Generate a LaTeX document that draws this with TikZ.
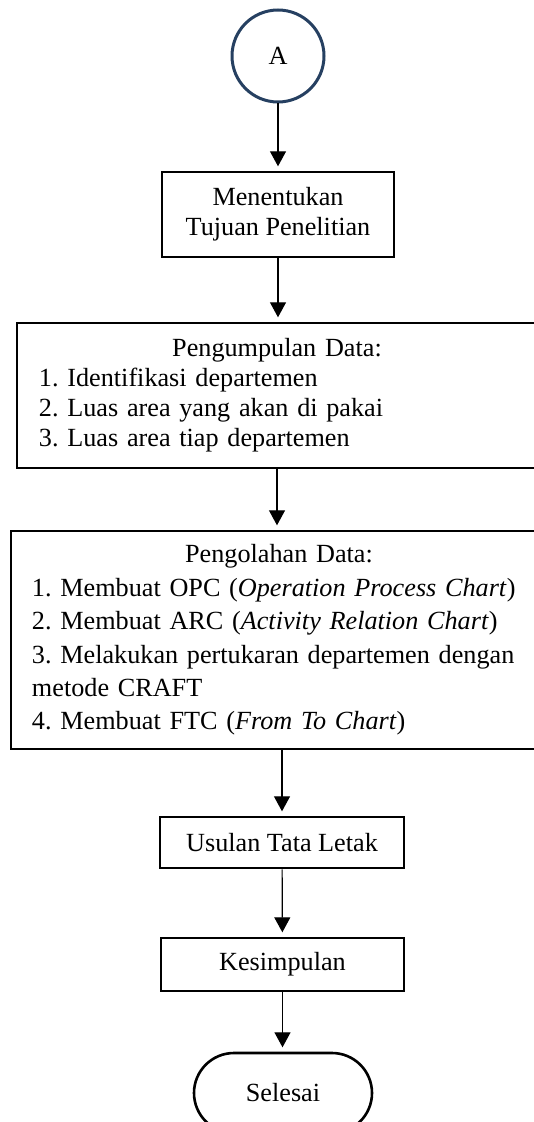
\documentclass[tikz,border=0pt]{standalone}
\usepackage{fontspec}
\setmainfont{Liberation Serif}
\usetikzlibrary{arrows.meta}
\definecolor{circblue}{RGB}{38,64,97}
\frenchspacing

\begin{document}
\begin{tikzpicture}[x=0.5pt,y=-0.5pt,
  font=\fontsize{13.1}{15}\selectfont,
  box/.style={draw,line width=1.3pt,inner sep=0pt},
  arr/.style={-{Triangle[width=8pt,length=7.5pt]},line width=0.6pt,shorten >=2.2pt}]
\useasboundingbox (0,0) rectangle (534,1122);
\clip (0,0) rectangle (534,1122);
\node[circle,draw=circblue,line width=1.5pt,minimum size=46pt,inner sep=0pt] (A) at (278,56) {A};
\node[box,minimum width=116pt,minimum height=42.5pt,align=center] (tujuan) at (278,214.5) {Menentukan\\Tujuan Penelitian};
\node[box,text width=238pt,inner xsep=11pt,minimum height=72.5pt,align=left] (kumpul) at (277,395.5)
  {\makebox[\linewidth]{Pengumpulan Data:}\\1. Identifikasi departemen\\2. Luas area yang akan di pakai\\3. Luas area tiap departemen};
\node[box,text width=247pt,inner xsep=10.5pt,minimum height=109pt,align=left,font=\fontsize{13.1}{16.7}\selectfont] (olah) at (279,640)
  {\makebox[\linewidth]{Pengolahan Data:}\\1. Membuat OPC (\textit{Operation Process Chart})\\2. Membuat ARC (\textit{Activity Relation Chart})\\3. Melakukan pertukaran departemen dengan\\metode CRAFT\\4. Membuat FTC (\textit{From To Chart})};
\node[box,minimum width=122pt,minimum height=25.5pt] (usulan) at (282,842.5) {Usulan Tata Letak};
\node[box,minimum width=121.5pt,minimum height=26.5pt] (simpul) at (282.5,964.5) {Kesimpulan};
\node[box,rounded corners=20pt,minimum width=89pt,minimum height=40pt] (selesai) at (283,1093) {Selesai};
\draw[arr] (A) -- (tujuan);
\draw[arr] (tujuan.south) -- (tujuan.south |- kumpul.north);
\draw[arr] (kumpul.south) -- (kumpul.south |- olah.north);
\draw[arr] (olah.south -| usulan.north) -- (usulan.north);
\draw[arr] (usulan) -- (simpul);
\draw[arr] (simpul.south) -- (simpul.south |- selesai.north);
\end{tikzpicture}
\end{document}
